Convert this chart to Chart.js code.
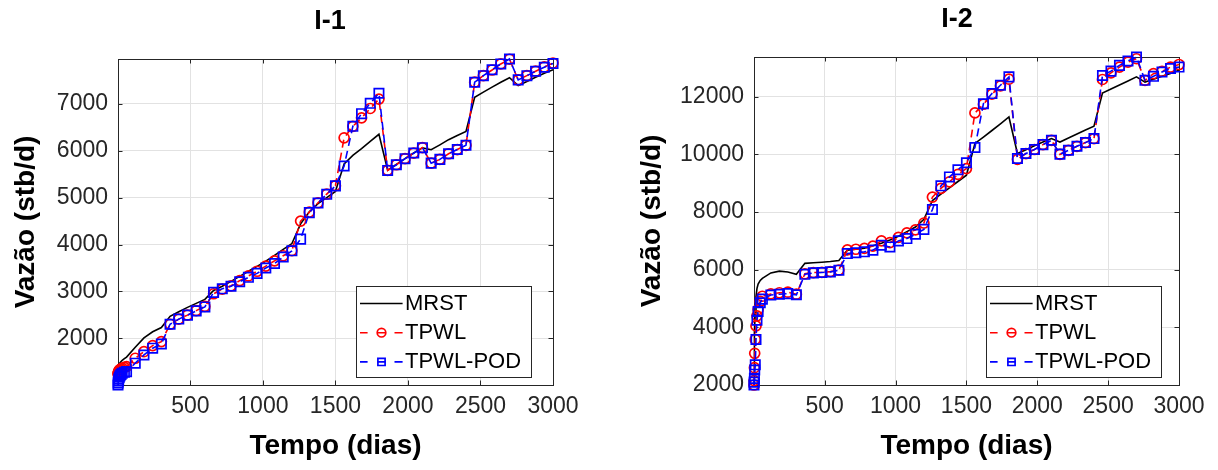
<!DOCTYPE html>
<html>
<head>
<meta charset="utf-8">
<title>Vazão - I-1 / I-2</title>
<script src="https://cdn.jsdelivr.net/npm/chart.js@4.4.1/dist/chart.umd.min.js"></script>
<style>
  html, body { margin: 0; padding: 0; background: #fff; overflow: hidden; }
  .panel { position: absolute; top: 0; }
  #chartI1 { left: 0; }
  #chartI2 { left: 609px; }
</style>
</head>
<body>
<canvas id="chartI1" class="panel" width="609" height="470"></canvas>
<canvas id="chartI2" class="panel" width="609" height="470"></canvas>
<script>
// tempo (dias) - same time steps for the three curves
const tempo = [1, 2, 4, 6, 10, 15, 22, 30, 45,
  60, 120, 180, 240, 300, 360, 420, 480, 540, 600,
  660, 720, 780, 840, 900, 960, 1020, 1080, 1140, 1200,
  1260, 1320, 1380, 1440, 1500, 1560, 1620, 1680, 1740, 1800,
  1860, 1920, 1980, 2040, 2100, 2160, 2220, 2280, 2340, 2400,
  2460, 2520, 2580, 2640, 2700, 2760, 2820, 2880, 2940, 3000];

// poço I-1 (stb/d)
const mrstI1 = [1400, 1410, 1425, 1440, 1460, 1480, 1505, 1530, 1565,
  1600, 1810, 2010, 2140, 2230, 2470, 2565, 2660, 2745, 2830,
  3020, 3110, 3215, 3320, 3430, 3535, 3645, 3770, 3895, 4020,
  4440, 4700, 4870, 5000, 5130, 5720, 5900, 6045, 6200, 6350,
  5585, 5710, 5830, 5950, 6060, 6020, 6125, 6235, 6325, 6410,
  7140, 7250, 7355, 7460, 7555, 7390, 7475, 7565, 7650, 7725];
const tpwlI1 = [1240, 1260, 1280, 1300, 1320, 1335, 1350, 1365, 1380,
  1395, 1575, 1715, 1845, 1930, 2300, 2410, 2495, 2590, 2680,
  2950, 3050, 3120, 3230, 3330, 3430, 3540, 3650, 3760, 3870,
  4500, 4690, 4890, 5075, 5255, 6275, 6520, 6700, 6900, 7100,
  5580, 5700, 5830, 5950, 6065, 5735, 5815, 5935, 6025, 6115,
  7460, 7600, 7720, 7850, 7950, 7510, 7600, 7695, 7785, 7870];
const podI1 = [1005, 1050, 1090, 1130, 1170, 1200, 1230, 1255, 1275,
  1290, 1470, 1645, 1790, 1880, 2300, 2410, 2495, 2585, 2670,
  2980, 3055, 3110, 3205, 3300, 3385, 3500, 3595, 3735, 3865,
  4115, 4680, 4885, 5070, 5250, 5675, 6520, 6790, 7010, 7225,
  5580, 5700, 5830, 5950, 6065, 5735, 5815, 5935, 6025, 6115,
  7460, 7600, 7725, 7850, 7955, 7510, 7600, 7695, 7780, 7860];

// poço I-2 (stb/d)
const mrstI2 = [2000, 2600, 3300, 3900, 4500, 5060, 5350, 5500, 5630,
  5700, 5890, 5950, 5920, 5840, 6220, 6240, 6260, 6285, 6320,
  6680, 6710, 6750, 6830, 6920, 7030, 7160, 7320, 7480, 7750,
  8400, 8620, 8840, 9060, 9280, 10380, 10600, 10830, 11060, 11300,
  10030, 10160, 10300, 10430, 10550, 10430, 10570, 10710, 10850, 10980,
  12130, 12270, 12410, 12550, 12690, 12510, 12610, 12710, 12810, 12920];
const tpwlI2 = [2000, 2150, 2600, 3100, 3580, 4050, 4400, 4620, 4900,
  5080, 5160, 5200, 5220, 5150, 5860, 5900, 5910, 5935, 5990,
  6690, 6710, 6740, 6820, 7000, 6940, 7120, 7280, 7380, 7620,
  8520, 8820, 9050, 9310, 9510, 11440, 11740, 12090, 12380, 12610,
  9830, 10030, 10170, 10340, 10490, 10000, 10140, 10280, 10410, 10550,
  12600, 12830, 13030, 13200, 13320, 12570, 12800, 12880, 13030, 13120];
const podI2 = [2000, 2100, 2230, 2520, 2700, 3580, 4250, 4550, 4850,
  4980, 5120, 5150, 5170, 5130, 5840, 5890, 5905, 5925, 5985,
  6560, 6590, 6620, 6680, 6850, 6790, 7000, 7080, 7230, 7400,
  8090, 8910, 9220, 9470, 9710, 10240, 11760, 12110, 12400, 12690,
  9860, 10030, 10170, 10340, 10490, 10010, 10145, 10285, 10410, 10550,
  12740, 12890, 13090, 13240, 13380, 12570, 12710, 12860, 12980, 13030];

// tick labels
const xTicks = [500, 1000, 1500, 2000, 2500, 3000];
const yTicksI1 = [2000, 3000, 4000, 5000, 6000, 7000];
const yTicksI2 = [2000, 4000, 6000, 8000, 10000, 12000];

const FONT = "'Liberation Sans', Arial, Helvetica, sans-serif";
const AXIS_COLOR = '#262626';
const GRID_COLOR = '#e2e2e2';

// box around the plot area with inward tick marks on all four sides
const axesBox = {
  id: 'axesBox',
  beforeDatasetsDraw(chart) {
    const { ctx, chartArea: a, scales } = chart;
    const len = 4.5;
    ctx.save();
    ctx.strokeStyle = AXIS_COLOR;
    ctx.lineWidth = 1;
    ctx.beginPath();
    scales.x.ticks.forEach(t => {
      const px = Math.round(scales.x.getPixelForValue(t.value)) + 0.5;
      ctx.moveTo(px, a.bottom); ctx.lineTo(px, a.bottom - len);
      ctx.moveTo(px, a.top); ctx.lineTo(px, a.top + len);
    });
    scales.y.ticks.forEach(t => {
      const py = Math.round(scales.y.getPixelForValue(t.value)) + 0.5;
      ctx.moveTo(a.left, py); ctx.lineTo(a.left + len, py);
      ctx.moveTo(a.right, py); ctx.lineTo(a.right - len, py);
    });
    ctx.stroke();
    ctx.strokeRect(Math.round(a.left) + 0.5, Math.round(a.top) + 0.5,
      Math.round(a.width), Math.round(a.height));
    ctx.restore();
  }
};

// well name above each panel
const panelTitle = {
  id: 'panelTitle',
  afterDraw(chart, args, opts) {
    const { ctx } = chart;
    ctx.save();
    ctx.font = `bold ${opts.size}px ${FONT}`;
    ctx.fillStyle = '#000';
    ctx.textAlign = 'center';
    ctx.textBaseline = 'middle';
    ctx.fillText(opts.text, opts.x, opts.y);
    ctx.restore();
  }
};

function drawMarker(ctx, style, x, y, r) {
  ctx.beginPath();
  if (style === 'rect') {
    ctx.rect(x - r, y - r, 2 * r, 2 * r);
  } else {
    ctx.arc(x, y, r, 0, Math.PI * 2);
  }
  ctx.stroke();
}

// legend box inside the lower right corner of the plot
const insetLegend = {
  id: 'insetLegend',
  afterDraw(chart, args, opts) {
    const { ctx, chartArea: a } = chart;
    const w = 175, h = 91;
    const x0 = Math.round(a.right - opts.right - w);
    const y0 = Math.round(a.bottom - opts.bottom - h);
    ctx.save();
    ctx.fillStyle = '#fff';
    ctx.fillRect(x0, y0, w, h);
    ctx.strokeStyle = AXIS_COLOR;
    ctx.lineWidth = 1;
    ctx.strokeRect(x0 + 0.5, y0 + 0.5, w, h);
    ctx.font = `22px ${FONT}`;
    ctx.textBaseline = 'middle';
    chart.data.datasets.forEach((ds, i) => {
      const y = y0 + 17.5 + i * 29.2;
      const lx = x0 + 4;
      ctx.strokeStyle = ds.borderColor;
      ctx.lineWidth = ds.borderWidth;
      ctx.beginPath();
      if (ds.borderDash) {
        [[0, 7.6], [17.5, 25.5], [34.5, 42.6]].forEach(([s, e]) => {
          ctx.moveTo(lx + s, y); ctx.lineTo(lx + e, y);
        });
      } else {
        ctx.moveTo(lx, y); ctx.lineTo(lx + 42.6, y);
      }
      ctx.stroke();
      if (ds.pointRadius > 0) {
        ctx.lineWidth = ds.pointBorderWidth;
        drawMarker(ctx, ds.pointStyle, lx + 21.5, y, ds.pointStyle === 'rect' ? 3.6 : 4.3);
      }
      ctx.fillStyle = '#000';
      ctx.fillText(ds.label, x0 + 49, y);
    });
    ctx.restore();
  }
};

function pairs(xs, ys) {
  return xs.map((x, i) => ({ x, y: ys[i] }));
}

// plain integers, no thousands separator
const plainLabel = v => String(v);

function buildChart(id, series, cfg) {
  const datasets = [
    { label: 'MRST', data: pairs(tempo, series.mrst), borderColor: '#000', borderWidth: 1.6,
      pointRadius: 0, order: 2 },
    { label: 'TPWL', data: pairs(tempo, series.tpwl), borderColor: '#ff0000', borderWidth: 1.6,
      borderDash: [8, 5], pointStyle: 'circle', pointRadius: 5, pointBorderWidth: 1.7,
      pointBorderColor: '#ff0000', pointBackgroundColor: 'rgba(0,0,0,0)', order: 1 },
    { label: 'TPWL-POD', data: pairs(tempo, series.pod), borderColor: '#0000ff', borderWidth: 1.6,
      borderDash: [8, 5], pointStyle: 'rect', pointRadius: 6.6, pointBorderWidth: 1.7,
      pointBorderColor: '#0000ff', pointBackgroundColor: 'rgba(0,0,0,0)', order: 0 }
  ];
  datasets.forEach(d => { d.tension = 0; d.clip = false; d.fill = false; });

  return new Chart(document.getElementById(id), {
    type: 'line',
    data: { datasets },
    options: {
      responsive: false,
      animation: false,
      events: [],
      layout: { padding: { top: cfg.top, right: cfg.right, left: 0, bottom: 0 } },
      plugins: {
        legend: { display: false },
        tooltip: { enabled: false },
        panelTitle: { text: cfg.title, x: cfg.titleX, y: cfg.titleY, size: 27 },
        insetLegend: { right: cfg.legendRight, bottom: 8 }
      },
      scales: {
        x: {
          type: 'linear', min: 1, max: 3000,
          afterBuildTicks: s => { s.ticks = xTicks.map(v => ({ value: v })); },
          afterFit: s => { s.height = 85; },
          grid: { color: GRID_COLOR, drawTicks: false },
          border: { display: false },
          ticks: { padding: 8, color: AXIS_COLOR, font: { family: FONT, size: 23 },
            maxRotation: 0, autoSkip: false, callback: plainLabel },
          title: { display: true, text: 'Tempo (dias)', color: '#000',
            font: { family: FONT, size: 28, weight: 'bold' }, padding: { top: 0, bottom: 7 } }
        },
        y: {
          type: 'linear', min: cfg.yMin, max: cfg.yMax,
          afterBuildTicks: s => { s.ticks = cfg.yTicks.map(v => ({ value: v })); },
          afterFit: s => { s.width = cfg.yWidth; },
          grid: { color: GRID_COLOR, drawTicks: false },
          border: { display: false },
          ticks: { padding: 10, color: AXIS_COLOR, font: { family: FONT, size: 23 },
            autoSkip: false, callback: plainLabel },
          title: { display: true, text: 'Vazão (stb/d)', color: '#000',
            font: { family: FONT, size: 28, weight: 'bold' }, padding: { top: cfg.yTitlePad, bottom: 0 } }
        }
      }
    },
    plugins: [axesBox, panelTitle, insetLegend]
  });
}

buildChart('chartI1', { mrst: mrstI1, tpwl: tpwlI1, pod: podI1 }, {
  title: 'I-1', titleX: 330, titleY: 22,
  top: 59, right: 56, yWidth: 118, yTitlePad: 9,
  yMin: 1005, yMax: 7955, yTicks: yTicksI1, legendRight: 22
});

buildChart('chartI2', { mrst: mrstI2, tpwl: tpwlI2, pod: podI2 }, {
  title: 'I-2', titleX: 348, titleY: 20,
  top: 57, right: 39, yWidth: 145, yTitlePad: 26,
  yMin: 2000, yMax: 13380, yTicks: yTicksI2, legendRight: 18
});
</script>
</body>
</html>
